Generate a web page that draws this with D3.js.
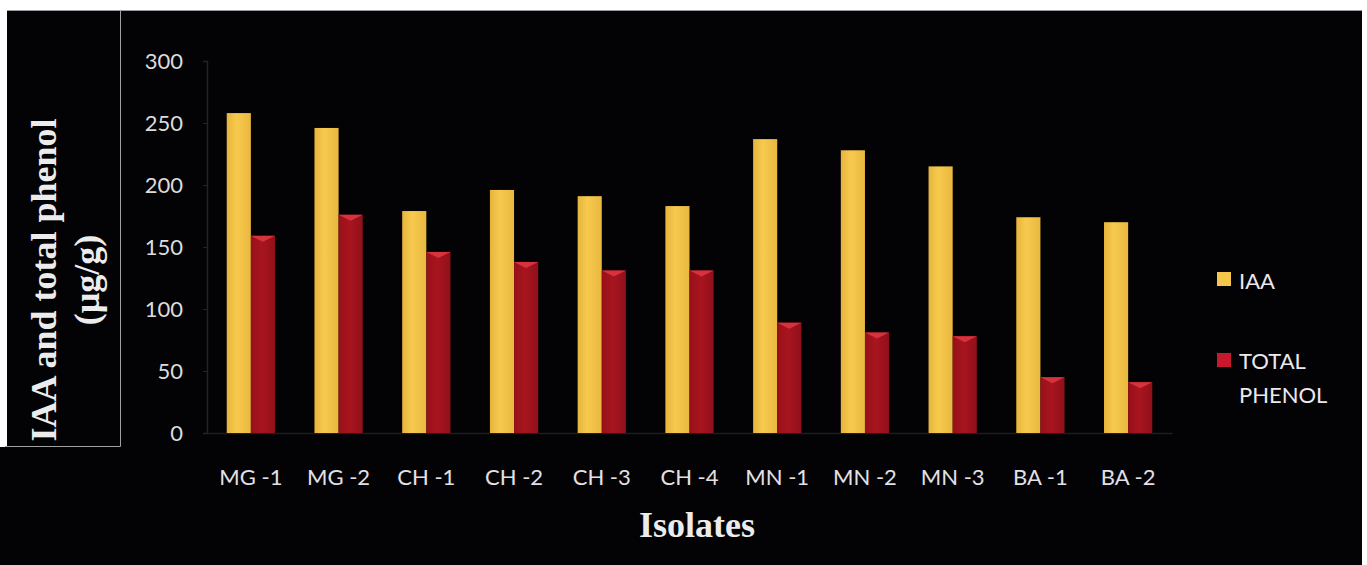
<!DOCTYPE html>
<html>
<head>
<meta charset="utf-8">
<script src="https://cdn.jsdelivr.net/npm/d3@7"></script>
<style>
  html, body { margin: 0; padding: 0; background: #ffffff; }
  svg { display: block; }
</style>
</head>
<body>
<svg id="chart" width="1367" height="565"></svg>
<script>
// Isolates and their measured concentrations (µg/g)
const isolates = ["MG -1", "MG -2", "CH -1", "CH -2", "CH -3", "CH -4", "MN -1", "MN -2", "MN -3", "BA -1", "BA -2"];
const iaaValues = [258, 246, 179, 196, 191, 183, 237, 228, 215, 174, 170];
const phenolValues = [159, 176, 146, 138, 131, 131, 89, 81, 78, 45, 41];
const seriesNames = ["IAA", "TOTAL PHENOL"];
const yTicks = [0, 50, 100, 150, 200, 250, 300];

const svg = d3.select("#chart");

// dark panel behind the chart
svg.append("rect").attr("x", 7).attr("y", 10).attr("width", 1355).attr("height", 555).attr("fill", "#030305");
svg.append("rect").attr("x", 0).attr("y", 447).attr("width", 8).attr("height", 118).attr("fill", "#030305");
svg.append("line").attr("x1", 7).attr("x2", 1362).attr("y1", 10.5).attr("y2", 10.5)
  .attr("stroke", "#9a9aa0").attr("stroke-width", 1);

// thin frame around the axis-title area
svg.append("path")
  .attr("d", "M120.5,10 V446.5 H5")
  .attr("fill", "none").attr("stroke", "#a0a0a0").attr("stroke-width", 1);

const x0 = d3.scaleBand().domain(isolates).range([207, 1172]).paddingInner(0.45).paddingOuter(0.225);
const x1 = d3.scaleBand().domain(seriesNames).range([0, x0.bandwidth()]);
const y = d3.scaleLinear().domain([0, 300]).range([433, 61]);

const colors = { "IAA": "#f4c649", "TOTAL PHENOL": "#a3141f" };
const labelFont = "Lato, 'Open Sans', sans-serif";

// gradients for the bars
const defs = svg.append("defs");
const gY = defs.append("linearGradient").attr("id", "gradIAA").attr("x1", 0).attr("x2", 1).attr("y1", 0).attr("y2", 0);
gY.append("stop").attr("offset", "0%").attr("stop-color", "#e6b43c");
gY.append("stop").attr("offset", "40%").attr("stop-color", "#f7ca4e");
gY.append("stop").attr("offset", "100%").attr("stop-color", "#e9b83f");
const gR = defs.append("linearGradient").attr("id", "gradPhenol").attr("x1", 0).attr("x2", 1).attr("y1", 0).attr("y2", 0);
gR.append("stop").attr("offset", "0%").attr("stop-color", "#971019");
gR.append("stop").attr("offset", "45%").attr("stop-color", "#a8151f");
gR.append("stop").attr("offset", "100%").attr("stop-color", "#90101a");

// value axis
const yAxis = d3.axisLeft(y).tickValues(yTicks).tickSize(4).tickPadding(20);
const yg = svg.append("g").attr("transform", "translate(207,0)").call(yAxis);
yg.select(".domain").attr("stroke", "#23232e").attr("stroke-width", 1.5);
yg.selectAll(".tick line").attr("stroke", "#23232e");
yg.selectAll(".tick text")
  .attr("fill", "#dcdcdc")
  .style("font-family", labelFont)
  .style("font-size", "22px");

// category axis
const xAxis = d3.axisBottom(x0).tickSize(0).tickPadding(36);
const xg = svg.append("g").attr("transform", "translate(0,433)").call(xAxis);
xg.select(".domain").attr("stroke", "#1c1c24").attr("stroke-width", 1.5);
xg.selectAll(".tick text")
  .attr("fill", "#e4e0e6")
  .style("font-family", labelFont)
  .style("font-size", "22px");

// bars
const groups = svg.append("g").selectAll("g")
  .data(isolates.map((c, i) => ({ cat: c, vals: [
    { name: "IAA", v: iaaValues[i] },
    { name: "TOTAL PHENOL", v: phenolValues[i] }
  ] })))
  .join("g")
  .attr("transform", d => `translate(${x0(d.cat)},0)`);

groups.selectAll("rect.bar")
  .data(d => d.vals)
  .join("rect")
  .attr("class", "bar")
  .attr("x", d => x1(d.name))
  .attr("width", x1.bandwidth())
  .attr("y", d => y(d.v))
  .attr("height", d => y(0) - y(d.v))
  .attr("fill", d => d.name === "IAA" ? "url(#gradIAA)" : "url(#gradPhenol)");

// brighter cap on the phenol bars
groups.selectAll("path.cap")
  .data(d => d.vals.filter(v => v.name === "TOTAL PHENOL"))
  .join("path")
  .attr("class", "cap")
  .attr("d", d => {
    const xl = x1(d.name), w = x1.bandwidth(), yt = y(d.v);
    return `M${xl},${yt} H${xl + w} L${xl + w / 2},${yt + 6} Z`;
  })
  .attr("fill", "#d8333d");

// legend
const legend = svg.append("g");
legend.append("rect").attr("x", 1217).attr("y", 272).attr("width", 14).attr("height", 14).attr("fill", colors["IAA"]);
legend.append("text").attr("x", 1239).attr("y", 289).text("IAA")
  .attr("fill", "#ece8ee").style("font-family", labelFont).style("font-size", "22px");
legend.append("rect").attr("x", 1217).attr("y", 353).attr("width", 14).attr("height", 14).attr("fill", "#c8182c");
const lt = legend.append("text").attr("fill", "#ece8ee").style("font-family", labelFont).style("font-size", "22px");
lt.append("tspan").attr("x", 1239).attr("y", 369).text("TOTAL");
lt.append("tspan").attr("x", 1239).attr("y", 403).text("PHENOL");

// axis titles
const titleFont = "'Liberation Serif', 'Times New Roman', serif";
const yTitle = svg.append("text")
  .attr("transform", "translate(0,280) rotate(-90)")
  .attr("text-anchor", "middle")
  .attr("fill", "#ececec")
  .style("font-family", titleFont).style("font-weight", "bold").style("font-size", "36px");
yTitle.append("tspan").attr("x", 0).attr("y", 56).text("IAA and total phenol");
yTitle.append("tspan").attr("x", 0).attr("y", 99).text("(µg/g)");

svg.append("text")
  .attr("x", 697).attr("y", 537)
  .attr("text-anchor", "middle")
  .attr("fill", "#ececec")
  .style("font-family", titleFont).style("font-weight", "bold").style("font-size", "36px")
  .text("Isolates");
</script>
</body>
</html>
